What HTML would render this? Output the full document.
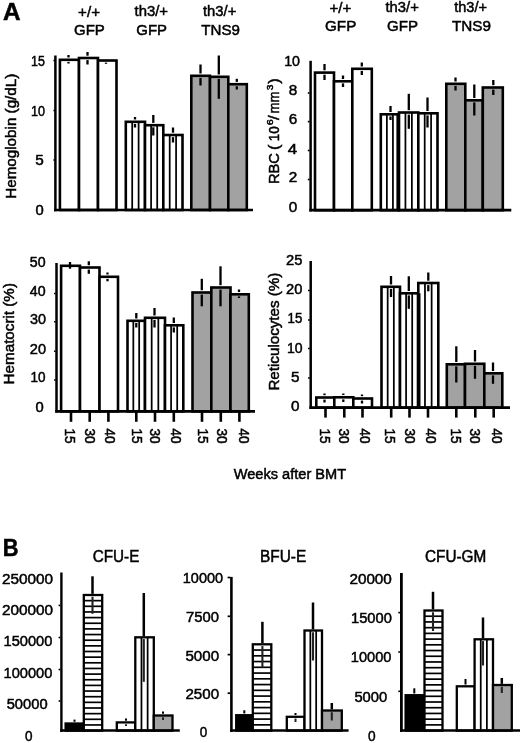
<!DOCTYPE html>
<html><head><meta charset="utf-8"><title>Figure</title>
<style>
html,body{margin:0;padding:0;background:#fff;}
body{width:520px;height:743px;overflow:hidden;font-family:"Liberation Sans", sans-serif;}
svg{display:block;font-family:"Liberation Sans", sans-serif;}
text{fill:#000;stroke:#000;stroke-width:0.5px;}
</style></head><body>
<svg width="520" height="743" viewBox="0 0 520 743">
<defs><filter id="soft" x="0" y="0" width="100%" height="100%" filterUnits="userSpaceOnUse"><feGaussianBlur stdDeviation="0.45"/></filter></defs>
<rect width="520" height="743" fill="#fff"/>
<g filter="url(#soft)">
<rect width="520" height="743" fill="#fff"/>
<rect x="59.90" y="59.80" width="19.10" height="150.20" fill="#fff" stroke="#000" stroke-width="2.6"/>
<rect x="79.00" y="58.00" width="19.00" height="152.00" fill="#fff" stroke="#000" stroke-width="2.6"/>
<rect x="98.00" y="60.50" width="18.50" height="149.50" fill="#fff" stroke="#000" stroke-width="2.6"/>
<line x1="68.50" y1="55.00" x2="68.50" y2="57.50" stroke="#000" stroke-width="2.3"/>
<line x1="68.50" y1="61.90" x2="68.50" y2="63.50" stroke="#000" stroke-width="2.3"/>
<line x1="87.50" y1="52.00" x2="87.50" y2="55.70" stroke="#000" stroke-width="2.3"/>
<line x1="87.50" y1="60.10" x2="87.50" y2="64.50" stroke="#000" stroke-width="2.3"/>
<line x1="106.00" y1="62.60" x2="106.00" y2="63.80" stroke="#000" stroke-width="2.3"/>
<rect x="125.80" y="121.80" width="19.20" height="88.20" fill="#fff" stroke="#000" stroke-width="2.6"/>
<line x1="132.20" y1="121.80" x2="132.20" y2="210.00" stroke="#000" stroke-width="1.75"/>
<line x1="138.60" y1="121.80" x2="138.60" y2="210.00" stroke="#000" stroke-width="1.75"/>
<rect x="145.00" y="125.20" width="18.30" height="84.80" fill="#fff" stroke="#000" stroke-width="2.6"/>
<line x1="151.10" y1="125.20" x2="151.10" y2="210.00" stroke="#000" stroke-width="1.75"/>
<line x1="157.20" y1="125.20" x2="157.20" y2="210.00" stroke="#000" stroke-width="1.75"/>
<rect x="163.30" y="135.00" width="19.20" height="75.00" fill="#fff" stroke="#000" stroke-width="2.6"/>
<line x1="169.70" y1="135.00" x2="169.70" y2="210.00" stroke="#000" stroke-width="1.75"/>
<line x1="176.10" y1="135.00" x2="176.10" y2="210.00" stroke="#000" stroke-width="1.75"/>
<line x1="135.00" y1="117.00" x2="135.00" y2="119.50" stroke="#000" stroke-width="2.3"/>
<line x1="135.00" y1="123.90" x2="135.00" y2="127.50" stroke="#000" stroke-width="2.3"/>
<line x1="153.30" y1="115.00" x2="153.30" y2="122.90" stroke="#000" stroke-width="2.3"/>
<line x1="153.30" y1="127.30" x2="153.30" y2="135.50" stroke="#000" stroke-width="2.3"/>
<line x1="173.00" y1="127.50" x2="173.00" y2="132.70" stroke="#000" stroke-width="2.3"/>
<line x1="173.00" y1="137.10" x2="173.00" y2="142.50" stroke="#000" stroke-width="2.3"/>
<rect x="191.30" y="75.80" width="18.70" height="134.20" fill="#a2a2a2" stroke="#000" stroke-width="2.6"/>
<rect x="210.00" y="76.80" width="18.30" height="133.20" fill="#a2a2a2" stroke="#000" stroke-width="2.6"/>
<rect x="228.30" y="84.20" width="18.50" height="125.80" fill="#a2a2a2" stroke="#000" stroke-width="2.6"/>
<line x1="200.50" y1="64.50" x2="200.50" y2="73.50" stroke="#000" stroke-width="2.3"/>
<line x1="200.50" y1="77.90" x2="200.50" y2="85.50" stroke="#000" stroke-width="2.3"/>
<line x1="218.80" y1="55.50" x2="218.80" y2="74.50" stroke="#000" stroke-width="2.3"/>
<line x1="218.80" y1="78.90" x2="218.80" y2="98.80" stroke="#000" stroke-width="2.3"/>
<line x1="236.80" y1="78.80" x2="236.80" y2="81.90" stroke="#000" stroke-width="2.3"/>
<line x1="236.80" y1="86.30" x2="236.80" y2="89.50" stroke="#000" stroke-width="2.3"/>
<line x1="55.40" y1="55.50" x2="55.40" y2="211.30" stroke="#000" stroke-width="2.5"/>
<line x1="54.10" y1="210.00" x2="253.00" y2="210.00" stroke="#000" stroke-width="2.7"/>
<line x1="53.40" y1="60.50" x2="55.00" y2="60.50" stroke="#000" stroke-width="1.5"/>
<line x1="53.40" y1="110.50" x2="55.00" y2="110.50" stroke="#000" stroke-width="1.5"/>
<line x1="53.40" y1="160.00" x2="55.00" y2="160.00" stroke="#000" stroke-width="1.5"/>
<text transform="translate(31.00,65.52) scale(0.8694,1)" font-size="14.3">15</text>
<text transform="translate(31.00,115.92) scale(0.8820,1)" font-size="14.3">10</text>
<text transform="translate(35.30,165.32) scale(1.0710,1)" font-size="14.3">5</text>
<text transform="translate(35.60,215.42) scale(1.0332,1)" font-size="14.3">0</text>
<text transform="translate(15.60,198.80) rotate(-90) scale(1.0285,1)" font-size="14.8">Hemoglobin (g/dL)</text>
<rect x="315.00" y="72.60" width="19.00" height="137.60" fill="#fff" stroke="#000" stroke-width="2.6"/>
<rect x="334.00" y="81.30" width="18.30" height="128.90" fill="#fff" stroke="#000" stroke-width="2.6"/>
<rect x="352.30" y="68.80" width="19.50" height="141.40" fill="#fff" stroke="#000" stroke-width="2.6"/>
<line x1="324.50" y1="64.00" x2="324.50" y2="70.30" stroke="#000" stroke-width="2.3"/>
<line x1="324.50" y1="74.70" x2="324.50" y2="80.00" stroke="#000" stroke-width="2.3"/>
<line x1="343.00" y1="75.50" x2="343.00" y2="79.00" stroke="#000" stroke-width="2.3"/>
<line x1="343.00" y1="83.40" x2="343.00" y2="87.00" stroke="#000" stroke-width="2.3"/>
<line x1="361.80" y1="62.50" x2="361.80" y2="66.50" stroke="#000" stroke-width="2.3"/>
<line x1="361.80" y1="70.90" x2="361.80" y2="75.00" stroke="#000" stroke-width="2.3"/>
<rect x="380.80" y="114.30" width="18.20" height="95.90" fill="#fff" stroke="#000" stroke-width="2.6"/>
<line x1="386.87" y1="114.30" x2="386.87" y2="210.20" stroke="#000" stroke-width="1.75"/>
<line x1="392.93" y1="114.30" x2="392.93" y2="210.20" stroke="#000" stroke-width="1.75"/>
<rect x="399.00" y="112.50" width="19.30" height="97.70" fill="#fff" stroke="#000" stroke-width="2.6"/>
<line x1="405.43" y1="112.50" x2="405.43" y2="210.20" stroke="#000" stroke-width="1.75"/>
<line x1="411.87" y1="112.50" x2="411.87" y2="210.20" stroke="#000" stroke-width="1.75"/>
<rect x="418.30" y="113.30" width="19.20" height="96.90" fill="#fff" stroke="#000" stroke-width="2.6"/>
<line x1="424.70" y1="113.30" x2="424.70" y2="210.20" stroke="#000" stroke-width="1.75"/>
<line x1="431.10" y1="113.30" x2="431.10" y2="210.20" stroke="#000" stroke-width="1.75"/>
<line x1="390.50" y1="106.00" x2="390.50" y2="112.00" stroke="#000" stroke-width="2.3"/>
<line x1="390.50" y1="116.40" x2="390.50" y2="120.00" stroke="#000" stroke-width="2.3"/>
<line x1="408.80" y1="93.80" x2="408.80" y2="110.20" stroke="#000" stroke-width="2.3"/>
<line x1="408.80" y1="114.60" x2="408.80" y2="128.80" stroke="#000" stroke-width="2.3"/>
<line x1="427.50" y1="97.50" x2="427.50" y2="111.00" stroke="#000" stroke-width="2.3"/>
<line x1="427.50" y1="115.40" x2="427.50" y2="127.50" stroke="#000" stroke-width="2.3"/>
<rect x="446.30" y="83.80" width="19.00" height="126.40" fill="#a2a2a2" stroke="#000" stroke-width="2.6"/>
<rect x="465.30" y="100.30" width="17.50" height="109.90" fill="#a2a2a2" stroke="#000" stroke-width="2.6"/>
<rect x="482.80" y="87.50" width="20.00" height="122.70" fill="#a2a2a2" stroke="#000" stroke-width="2.6"/>
<line x1="455.50" y1="77.50" x2="455.50" y2="81.50" stroke="#000" stroke-width="2.3"/>
<line x1="455.50" y1="85.90" x2="455.50" y2="90.50" stroke="#000" stroke-width="2.3"/>
<line x1="474.30" y1="84.50" x2="474.30" y2="98.00" stroke="#000" stroke-width="2.3"/>
<line x1="474.30" y1="102.40" x2="474.30" y2="115.50" stroke="#000" stroke-width="2.3"/>
<line x1="493.30" y1="80.00" x2="493.30" y2="85.20" stroke="#000" stroke-width="2.3"/>
<line x1="493.30" y1="89.60" x2="493.30" y2="95.00" stroke="#000" stroke-width="2.3"/>
<line x1="398.20" y1="114.00" x2="398.20" y2="210.20" stroke="#000" stroke-width="3.6"/>
<line x1="310.60" y1="60.80" x2="310.60" y2="211.50" stroke="#000" stroke-width="2.5"/>
<line x1="309.30" y1="210.20" x2="511.30" y2="210.20" stroke="#000" stroke-width="2.7"/>
<line x1="307.80" y1="93.00" x2="309.60" y2="93.00" stroke="#000" stroke-width="1.6"/>
<line x1="307.80" y1="121.60" x2="309.60" y2="121.60" stroke="#000" stroke-width="1.6"/>
<line x1="307.80" y1="150.50" x2="309.60" y2="150.50" stroke="#000" stroke-width="1.6"/>
<line x1="307.80" y1="179.50" x2="309.60" y2="179.50" stroke="#000" stroke-width="1.6"/>
<text transform="translate(284.20,66.48) scale(0.9303,1)" font-size="15.3">10</text>
<text transform="translate(288.80,95.28) scale(1.0010,1)" font-size="15.3">8</text>
<text transform="translate(288.70,124.08) scale(1.0010,1)" font-size="15.3">6</text>
<text transform="translate(287.80,153.98) scale(1.1070,1)" font-size="15.3">4</text>
<text transform="translate(288.70,182.18) scale(1.0010,1)" font-size="15.3">2</text>
<text transform="translate(288.70,212.08) scale(1.0010,1)" font-size="15.3">0</text>
<text transform="translate(279.10,184.10) rotate(-90) scale(0.9509,1)" font-size="15.5">RBC</text>
<text transform="translate(279.10,149.93) rotate(-90) scale(1.0500,1)" font-size="15.5">(</text>
<text transform="translate(279.10,141.20) rotate(-90) scale(0.8718,1)" font-size="15.5">10</text>
<text transform="translate(272.80,125.20) rotate(-90) scale(1.2080,1)" font-size="8.8">6</text>
<text transform="translate(279.10,119.99) rotate(-90) scale(1.1000,1)" font-size="15.5">/</text>
<text transform="translate(279.10,113.40) rotate(-90) scale(0.8525,1)" font-size="15.5">mm</text>
<text transform="translate(272.80,90.20) rotate(-90) scale(1.1466,1)" font-size="8.8">3</text>
<text transform="translate(279.10,83.63) rotate(-90) scale(1.0500,1)" font-size="15.5">)</text>
<rect x="61.10" y="265.80" width="18.90" height="145.50" fill="#fff" stroke="#000" stroke-width="2.6"/>
<rect x="80.00" y="267.50" width="19.50" height="143.80" fill="#fff" stroke="#000" stroke-width="2.6"/>
<rect x="99.50" y="276.80" width="18.50" height="134.50" fill="#fff" stroke="#000" stroke-width="2.6"/>
<line x1="70.00" y1="262.00" x2="70.00" y2="268.70" stroke="#000" stroke-width="2.3"/>
<line x1="88.80" y1="261.30" x2="88.80" y2="265.20" stroke="#000" stroke-width="2.3"/>
<line x1="88.80" y1="269.60" x2="88.80" y2="273.80" stroke="#000" stroke-width="2.3"/>
<line x1="107.50" y1="272.50" x2="107.50" y2="274.50" stroke="#000" stroke-width="2.3"/>
<line x1="107.50" y1="278.90" x2="107.50" y2="281.30" stroke="#000" stroke-width="2.3"/>
<rect x="127.50" y="320.80" width="17.50" height="90.50" fill="#fff" stroke="#000" stroke-width="2.6"/>
<line x1="133.33" y1="320.80" x2="133.33" y2="411.30" stroke="#000" stroke-width="1.75"/>
<line x1="139.17" y1="320.80" x2="139.17" y2="411.30" stroke="#000" stroke-width="1.75"/>
<rect x="145.00" y="317.80" width="20.00" height="93.50" fill="#fff" stroke="#000" stroke-width="2.6"/>
<line x1="151.67" y1="317.80" x2="151.67" y2="411.30" stroke="#000" stroke-width="1.75"/>
<line x1="158.33" y1="317.80" x2="158.33" y2="411.30" stroke="#000" stroke-width="1.75"/>
<rect x="165.00" y="325.30" width="18.30" height="86.00" fill="#fff" stroke="#000" stroke-width="2.6"/>
<line x1="171.10" y1="325.30" x2="171.10" y2="411.30" stroke="#000" stroke-width="1.75"/>
<line x1="177.20" y1="325.30" x2="177.20" y2="411.30" stroke="#000" stroke-width="1.75"/>
<line x1="136.30" y1="313.00" x2="136.30" y2="318.50" stroke="#000" stroke-width="2.3"/>
<line x1="136.30" y1="322.90" x2="136.30" y2="327.50" stroke="#000" stroke-width="2.3"/>
<line x1="154.50" y1="308.00" x2="154.50" y2="315.50" stroke="#000" stroke-width="2.3"/>
<line x1="154.50" y1="319.90" x2="154.50" y2="327.50" stroke="#000" stroke-width="2.3"/>
<line x1="173.80" y1="317.50" x2="173.80" y2="323.00" stroke="#000" stroke-width="2.3"/>
<line x1="173.80" y1="327.40" x2="173.80" y2="332.50" stroke="#000" stroke-width="2.3"/>
<rect x="192.50" y="292.50" width="18.80" height="118.80" fill="#a2a2a2" stroke="#000" stroke-width="2.6"/>
<rect x="211.30" y="287.50" width="19.20" height="123.80" fill="#a2a2a2" stroke="#000" stroke-width="2.6"/>
<rect x="230.50" y="294.30" width="18.30" height="117.00" fill="#a2a2a2" stroke="#000" stroke-width="2.6"/>
<line x1="201.80" y1="278.80" x2="201.80" y2="290.20" stroke="#000" stroke-width="2.3"/>
<line x1="201.80" y1="294.60" x2="201.80" y2="306.30" stroke="#000" stroke-width="2.3"/>
<line x1="220.50" y1="266.30" x2="220.50" y2="285.20" stroke="#000" stroke-width="2.3"/>
<line x1="220.50" y1="289.60" x2="220.50" y2="306.30" stroke="#000" stroke-width="2.3"/>
<line x1="239.00" y1="289.50" x2="239.00" y2="292.00" stroke="#000" stroke-width="2.3"/>
<line x1="239.00" y1="296.40" x2="239.00" y2="298.00" stroke="#000" stroke-width="2.3"/>
<line x1="56.50" y1="263.00" x2="56.50" y2="412.60" stroke="#000" stroke-width="2.5"/>
<line x1="55.20" y1="411.30" x2="255.00" y2="411.30" stroke="#000" stroke-width="2.7"/>
<line x1="54.00" y1="293.60" x2="55.60" y2="293.60" stroke="#000" stroke-width="1.5"/>
<line x1="54.00" y1="321.70" x2="55.60" y2="321.70" stroke="#000" stroke-width="1.5"/>
<line x1="54.00" y1="351.20" x2="55.60" y2="351.20" stroke="#000" stroke-width="1.5"/>
<line x1="54.00" y1="380.00" x2="55.60" y2="380.00" stroke="#000" stroke-width="1.5"/>
<text transform="translate(29.80,266.93) scale(0.9749,1)" font-size="14.6">50</text>
<text transform="translate(29.80,296.03) scale(0.9749,1)" font-size="14.6">40</text>
<text transform="translate(30.00,324.13) scale(0.9873,1)" font-size="14.6">30</text>
<text transform="translate(29.80,353.63) scale(0.9996,1)" font-size="14.6">20</text>
<text transform="translate(30.60,382.43) scale(0.9256,1)" font-size="14.6">10</text>
<text transform="translate(35.60,411.83) scale(1.0120,1)" font-size="14.6">0</text>
<text transform="translate(14.40,384.40) rotate(-90) scale(1.0272,1)" font-size="14.8">Hematocrit (%)</text>
<line x1="71.00" y1="411.30" x2="71.00" y2="421.80" stroke="#000" stroke-width="2.6"/>
<text transform="translate(65.00,428.40) rotate(90) scale(0.8891,1)" font-size="15.3">15</text>
<line x1="89.70" y1="411.30" x2="89.70" y2="421.80" stroke="#000" stroke-width="2.6"/>
<text transform="translate(84.90,428.40) rotate(90) scale(0.8891,1)" font-size="15.3">30</text>
<line x1="108.40" y1="411.30" x2="108.40" y2="421.80" stroke="#000" stroke-width="2.6"/>
<text transform="translate(105.40,428.40) rotate(90) scale(0.8891,1)" font-size="15.3">40</text>
<line x1="136.30" y1="411.30" x2="136.30" y2="421.80" stroke="#000" stroke-width="2.6"/>
<text transform="translate(132.00,428.40) rotate(90) scale(0.8891,1)" font-size="15.3">15</text>
<line x1="155.00" y1="411.30" x2="155.00" y2="421.80" stroke="#000" stroke-width="2.6"/>
<text transform="translate(150.20,428.40) rotate(90) scale(0.8891,1)" font-size="15.3">30</text>
<line x1="173.80" y1="411.30" x2="173.80" y2="421.80" stroke="#000" stroke-width="2.6"/>
<text transform="translate(170.90,428.40) rotate(90) scale(0.8891,1)" font-size="15.3">40</text>
<line x1="202.00" y1="411.30" x2="202.00" y2="421.80" stroke="#000" stroke-width="2.6"/>
<text transform="translate(197.70,428.40) rotate(90) scale(0.8891,1)" font-size="15.3">15</text>
<line x1="220.80" y1="411.30" x2="220.80" y2="421.80" stroke="#000" stroke-width="2.6"/>
<text transform="translate(216.90,428.40) rotate(90) scale(0.8891,1)" font-size="15.3">30</text>
<line x1="239.40" y1="411.30" x2="239.40" y2="421.80" stroke="#000" stroke-width="2.6"/>
<text transform="translate(238.50,428.40) rotate(90) scale(0.8891,1)" font-size="15.3">40</text>
<rect x="316.30" y="397.50" width="18.00" height="10.10" fill="#fff" stroke="#000" stroke-width="2.6"/>
<rect x="334.30" y="397.30" width="19.00" height="10.30" fill="#fff" stroke="#000" stroke-width="2.6"/>
<rect x="353.30" y="398.50" width="18.70" height="9.10" fill="#fff" stroke="#000" stroke-width="2.6"/>
<line x1="324.50" y1="393.50" x2="324.50" y2="395.20" stroke="#000" stroke-width="2.3"/>
<line x1="324.50" y1="399.60" x2="324.50" y2="402.50" stroke="#000" stroke-width="2.3"/>
<line x1="343.30" y1="393.50" x2="343.30" y2="395.00" stroke="#000" stroke-width="2.3"/>
<line x1="343.30" y1="399.40" x2="343.30" y2="402.00" stroke="#000" stroke-width="2.3"/>
<line x1="362.00" y1="394.50" x2="362.00" y2="396.20" stroke="#000" stroke-width="2.3"/>
<line x1="362.00" y1="400.60" x2="362.00" y2="403.50" stroke="#000" stroke-width="2.3"/>
<rect x="381.50" y="286.80" width="18.50" height="120.80" fill="#fff" stroke="#000" stroke-width="2.6"/>
<line x1="387.67" y1="286.80" x2="387.67" y2="407.60" stroke="#000" stroke-width="1.75"/>
<line x1="393.83" y1="286.80" x2="393.83" y2="407.60" stroke="#000" stroke-width="1.75"/>
<rect x="400.00" y="293.30" width="18.30" height="114.30" fill="#fff" stroke="#000" stroke-width="2.6"/>
<line x1="406.10" y1="293.30" x2="406.10" y2="407.60" stroke="#000" stroke-width="1.75"/>
<line x1="412.20" y1="293.30" x2="412.20" y2="407.60" stroke="#000" stroke-width="1.75"/>
<rect x="418.30" y="283.00" width="20.00" height="124.60" fill="#fff" stroke="#000" stroke-width="2.6"/>
<line x1="424.97" y1="283.00" x2="424.97" y2="407.60" stroke="#000" stroke-width="1.75"/>
<line x1="431.63" y1="283.00" x2="431.63" y2="407.60" stroke="#000" stroke-width="1.75"/>
<line x1="391.00" y1="276.00" x2="391.00" y2="284.50" stroke="#000" stroke-width="2.3"/>
<line x1="391.00" y1="288.90" x2="391.00" y2="297.00" stroke="#000" stroke-width="2.3"/>
<line x1="408.80" y1="276.30" x2="408.80" y2="291.00" stroke="#000" stroke-width="2.3"/>
<line x1="408.80" y1="295.40" x2="408.80" y2="308.80" stroke="#000" stroke-width="2.3"/>
<line x1="428.30" y1="272.50" x2="428.30" y2="280.70" stroke="#000" stroke-width="2.3"/>
<line x1="428.30" y1="285.10" x2="428.30" y2="291.30" stroke="#000" stroke-width="2.3"/>
<rect x="446.80" y="364.30" width="18.20" height="43.30" fill="#a2a2a2" stroke="#000" stroke-width="2.6"/>
<rect x="465.00" y="363.80" width="19.30" height="43.80" fill="#a2a2a2" stroke="#000" stroke-width="2.6"/>
<rect x="484.30" y="373.30" width="18.00" height="34.30" fill="#a2a2a2" stroke="#000" stroke-width="2.6"/>
<line x1="456.30" y1="346.30" x2="456.30" y2="362.00" stroke="#000" stroke-width="2.3"/>
<line x1="456.30" y1="366.40" x2="456.30" y2="382.50" stroke="#000" stroke-width="2.3"/>
<line x1="475.00" y1="350.00" x2="475.00" y2="361.50" stroke="#000" stroke-width="2.3"/>
<line x1="475.00" y1="365.90" x2="475.00" y2="378.80" stroke="#000" stroke-width="2.3"/>
<line x1="493.00" y1="362.50" x2="493.00" y2="371.00" stroke="#000" stroke-width="2.3"/>
<line x1="493.00" y1="375.40" x2="493.00" y2="383.80" stroke="#000" stroke-width="2.3"/>
<line x1="418.60" y1="293.30" x2="418.60" y2="407.60" stroke="#000" stroke-width="3.8"/>
<line x1="310.70" y1="261.00" x2="310.70" y2="408.90" stroke="#000" stroke-width="2.5"/>
<line x1="309.40" y1="407.60" x2="510.00" y2="407.60" stroke="#000" stroke-width="2.7"/>
<line x1="308.00" y1="290.60" x2="309.80" y2="290.60" stroke="#000" stroke-width="1.5"/>
<line x1="308.00" y1="320.00" x2="309.80" y2="320.00" stroke="#000" stroke-width="1.5"/>
<line x1="308.00" y1="348.50" x2="309.80" y2="348.50" stroke="#000" stroke-width="1.5"/>
<line x1="308.00" y1="378.10" x2="309.80" y2="378.10" stroke="#000" stroke-width="1.5"/>
<text transform="translate(286.00,265.00) scale(0.9922,1)" font-size="14.8">25</text>
<text transform="translate(286.00,294.10) scale(0.9922,1)" font-size="14.8">20</text>
<text transform="translate(287.60,323.10) scale(0.8948,1)" font-size="14.8">15</text>
<text transform="translate(287.00,352.50) scale(0.9496,1)" font-size="14.8">10</text>
<text transform="translate(291.00,381.60) scale(1.0348,1)" font-size="14.8">5</text>
<text transform="translate(291.00,411.20) scale(1.0348,1)" font-size="14.8">0</text>
<text transform="translate(279.00,390.60) rotate(-90) scale(1.0120,1)" font-size="15">Reticulocytes (%)</text>
<line x1="325.50" y1="407.60" x2="325.50" y2="417.60" stroke="#000" stroke-width="2.6"/>
<text transform="translate(319.60,428.40) rotate(90) scale(0.8891,1)" font-size="15.3">15</text>
<line x1="344.30" y1="407.60" x2="344.30" y2="417.60" stroke="#000" stroke-width="2.6"/>
<text transform="translate(339.10,428.40) rotate(90) scale(0.8891,1)" font-size="15.3">30</text>
<line x1="362.50" y1="407.60" x2="362.50" y2="417.60" stroke="#000" stroke-width="2.6"/>
<text transform="translate(360.30,428.40) rotate(90) scale(0.8891,1)" font-size="15.3">40</text>
<line x1="391.20" y1="407.60" x2="391.20" y2="417.60" stroke="#000" stroke-width="2.6"/>
<text transform="translate(385.30,428.40) rotate(90) scale(0.8891,1)" font-size="15.3">15</text>
<line x1="409.50" y1="407.60" x2="409.50" y2="417.60" stroke="#000" stroke-width="2.6"/>
<text transform="translate(405.30,428.40) rotate(90) scale(0.8891,1)" font-size="15.3">30</text>
<line x1="428.00" y1="407.60" x2="428.00" y2="417.60" stroke="#000" stroke-width="2.6"/>
<text transform="translate(426.10,428.40) rotate(90) scale(0.8891,1)" font-size="15.3">40</text>
<line x1="456.30" y1="407.60" x2="456.30" y2="417.60" stroke="#000" stroke-width="2.6"/>
<text transform="translate(451.10,428.40) rotate(90) scale(0.8891,1)" font-size="15.3">15</text>
<line x1="475.30" y1="407.60" x2="475.30" y2="417.60" stroke="#000" stroke-width="2.6"/>
<text transform="translate(470.30,428.40) rotate(90) scale(0.8891,1)" font-size="15.3">30</text>
<line x1="493.70" y1="407.60" x2="493.70" y2="417.60" stroke="#000" stroke-width="2.6"/>
<text transform="translate(491.80,428.40) rotate(90) scale(0.8891,1)" font-size="15.3">40</text>
<text transform="translate(78.10,17.20) scale(0.9778,1)" font-size="15.5">+/+</text>
<text transform="translate(74.00,34.80) scale(0.9670,1)" font-size="15.5">GFP</text>
<text transform="translate(134.50,16.20) scale(0.9606,1)" font-size="15.5">th3/+</text>
<text transform="translate(136.30,34.80) scale(0.9638,1)" font-size="15.5">GFP</text>
<text transform="translate(203.00,16.20) scale(0.9548,1)" font-size="15.5">th3/+</text>
<text transform="translate(201.30,34.80) scale(0.9772,1)" font-size="15.5">TNS9</text>
<text transform="translate(329.50,13.30) scale(0.9733,1)" font-size="15.5">+/+</text>
<text transform="translate(325.00,31.10) scale(0.9827,1)" font-size="15.5">GFP</text>
<text transform="translate(385.50,12.40) scale(0.9548,1)" font-size="15.5">th3/+</text>
<text transform="translate(387.00,31.10) scale(0.9732,1)" font-size="15.5">GFP</text>
<text transform="translate(454.20,12.30) scale(0.9405,1)" font-size="15.5">th3/+</text>
<text transform="translate(452.00,30.90) scale(0.9848,1)" font-size="15.5">TNS9</text>
<text transform="translate(3.10,20.10) scale(0.9921,1)" font-size="24.5" font-weight="bold">A</text>
<text transform="translate(2.75,556.40) scale(0.8821,1)" font-size="24.8" font-weight="bold">B</text>
<text transform="translate(233.75,479.40) scale(0.9543,1)" font-size="15.3">Weeks after BMT</text>
<rect x="65.60" y="723.50" width="18.20" height="7.10" fill="#000" stroke="#000" stroke-width="2.3"/>
<rect x="83.80" y="595.00" width="18.40" height="135.60" fill="#fff" stroke="#000" stroke-width="2.3"/>
<line x1="83.80" y1="600.65" x2="102.20" y2="600.65" stroke="#000" stroke-width="1.7"/>
<line x1="83.80" y1="606.30" x2="102.20" y2="606.30" stroke="#000" stroke-width="1.7"/>
<line x1="83.80" y1="611.95" x2="102.20" y2="611.95" stroke="#000" stroke-width="1.7"/>
<line x1="83.80" y1="617.60" x2="102.20" y2="617.60" stroke="#000" stroke-width="1.7"/>
<line x1="83.80" y1="623.25" x2="102.20" y2="623.25" stroke="#000" stroke-width="1.7"/>
<line x1="83.80" y1="628.90" x2="102.20" y2="628.90" stroke="#000" stroke-width="1.7"/>
<line x1="83.80" y1="634.55" x2="102.20" y2="634.55" stroke="#000" stroke-width="1.7"/>
<line x1="83.80" y1="640.20" x2="102.20" y2="640.20" stroke="#000" stroke-width="1.7"/>
<line x1="83.80" y1="645.85" x2="102.20" y2="645.85" stroke="#000" stroke-width="1.7"/>
<line x1="83.80" y1="651.50" x2="102.20" y2="651.50" stroke="#000" stroke-width="1.7"/>
<line x1="83.80" y1="657.15" x2="102.20" y2="657.15" stroke="#000" stroke-width="1.7"/>
<line x1="83.80" y1="662.80" x2="102.20" y2="662.80" stroke="#000" stroke-width="1.7"/>
<line x1="83.80" y1="668.45" x2="102.20" y2="668.45" stroke="#000" stroke-width="1.7"/>
<line x1="83.80" y1="674.10" x2="102.20" y2="674.10" stroke="#000" stroke-width="1.7"/>
<line x1="83.80" y1="679.75" x2="102.20" y2="679.75" stroke="#000" stroke-width="1.7"/>
<line x1="83.80" y1="685.40" x2="102.20" y2="685.40" stroke="#000" stroke-width="1.7"/>
<line x1="83.80" y1="691.05" x2="102.20" y2="691.05" stroke="#000" stroke-width="1.7"/>
<line x1="83.80" y1="696.70" x2="102.20" y2="696.70" stroke="#000" stroke-width="1.7"/>
<line x1="83.80" y1="702.35" x2="102.20" y2="702.35" stroke="#000" stroke-width="1.7"/>
<line x1="83.80" y1="708.00" x2="102.20" y2="708.00" stroke="#000" stroke-width="1.7"/>
<line x1="83.80" y1="713.65" x2="102.20" y2="713.65" stroke="#000" stroke-width="1.7"/>
<line x1="83.80" y1="719.30" x2="102.20" y2="719.30" stroke="#000" stroke-width="1.7"/>
<line x1="83.80" y1="724.95" x2="102.20" y2="724.95" stroke="#000" stroke-width="1.7"/>
<rect x="116.80" y="722.40" width="18.50" height="8.20" fill="#fff" stroke="#000" stroke-width="2.3"/>
<rect x="135.30" y="637.30" width="18.50" height="93.30" fill="#fff" stroke="#000" stroke-width="2.3"/>
<line x1="141.47" y1="637.30" x2="141.47" y2="730.60" stroke="#000" stroke-width="1.75"/>
<line x1="147.63" y1="637.30" x2="147.63" y2="730.60" stroke="#000" stroke-width="1.75"/>
<rect x="153.80" y="715.50" width="18.70" height="15.10" fill="#a2a2a2" stroke="#000" stroke-width="2.3"/>
<line x1="74.50" y1="719.60" x2="74.50" y2="721.75" stroke="#000" stroke-width="2.0"/>
<line x1="92.50" y1="576.30" x2="92.50" y2="593.85" stroke="#000" stroke-width="2.5"/>
<line x1="92.50" y1="596.75" x2="92.50" y2="613.80" stroke="#222" stroke-width="2.1"/>
<line x1="126.00" y1="718.60" x2="126.00" y2="720.65" stroke="#000" stroke-width="2.0"/>
<line x1="126.00" y1="724.15" x2="126.00" y2="726.00" stroke="#222" stroke-width="2.0"/>
<line x1="143.80" y1="593.00" x2="143.80" y2="636.15" stroke="#000" stroke-width="2.5"/>
<line x1="143.80" y1="639.05" x2="143.80" y2="681.80" stroke="#222" stroke-width="2.1"/>
<line x1="163.00" y1="711.60" x2="163.00" y2="713.75" stroke="#000" stroke-width="2.0"/>
<line x1="163.00" y1="717.25" x2="163.00" y2="720.00" stroke="#222" stroke-width="2.0"/>
<line x1="61.40" y1="572.50" x2="61.40" y2="731.90" stroke="#000" stroke-width="2.4"/>
<line x1="60.20" y1="730.60" x2="179.80" y2="730.60" stroke="#000" stroke-width="2.5"/>
<line x1="58.60" y1="605.40" x2="60.40" y2="605.40" stroke="#000" stroke-width="1.6"/>
<line x1="58.60" y1="637.50" x2="60.40" y2="637.50" stroke="#000" stroke-width="1.6"/>
<line x1="58.60" y1="669.50" x2="60.40" y2="669.50" stroke="#000" stroke-width="1.6"/>
<line x1="58.60" y1="701.00" x2="60.40" y2="701.00" stroke="#000" stroke-width="1.6"/>
<text transform="translate(1.90,584.47) scale(1.0235,1)" font-size="15">250000</text>
<text transform="translate(1.90,615.07) scale(1.0235,1)" font-size="15">200000</text>
<text transform="translate(3.50,646.47) scale(0.9775,1)" font-size="15">150000</text>
<text transform="translate(3.50,677.77) scale(0.9775,1)" font-size="15">100000</text>
<text transform="translate(6.70,709.17) scale(0.9808,1)" font-size="15">50000</text>
<text transform="translate(25.10,740.57) scale(0.9009,1)" font-size="15">0</text>
<text transform="translate(92.75,561.80) scale(0.9665,1)" font-size="15.8">CFU-E</text>
<rect x="236.20" y="715.20" width="16.60" height="15.40" fill="#000" stroke="#000" stroke-width="2.3"/>
<rect x="252.80" y="644.30" width="18.50" height="86.30" fill="#fff" stroke="#000" stroke-width="2.3"/>
<line x1="252.80" y1="650.05" x2="271.30" y2="650.05" stroke="#000" stroke-width="1.7"/>
<line x1="252.80" y1="655.81" x2="271.30" y2="655.81" stroke="#000" stroke-width="1.7"/>
<line x1="252.80" y1="661.56" x2="271.30" y2="661.56" stroke="#000" stroke-width="1.7"/>
<line x1="252.80" y1="667.31" x2="271.30" y2="667.31" stroke="#000" stroke-width="1.7"/>
<line x1="252.80" y1="673.07" x2="271.30" y2="673.07" stroke="#000" stroke-width="1.7"/>
<line x1="252.80" y1="678.82" x2="271.30" y2="678.82" stroke="#000" stroke-width="1.7"/>
<line x1="252.80" y1="684.57" x2="271.30" y2="684.57" stroke="#000" stroke-width="1.7"/>
<line x1="252.80" y1="690.33" x2="271.30" y2="690.33" stroke="#000" stroke-width="1.7"/>
<line x1="252.80" y1="696.08" x2="271.30" y2="696.08" stroke="#000" stroke-width="1.7"/>
<line x1="252.80" y1="701.83" x2="271.30" y2="701.83" stroke="#000" stroke-width="1.7"/>
<line x1="252.80" y1="707.59" x2="271.30" y2="707.59" stroke="#000" stroke-width="1.7"/>
<line x1="252.80" y1="713.34" x2="271.30" y2="713.34" stroke="#000" stroke-width="1.7"/>
<line x1="252.80" y1="719.09" x2="271.30" y2="719.09" stroke="#000" stroke-width="1.7"/>
<line x1="252.80" y1="724.85" x2="271.30" y2="724.85" stroke="#000" stroke-width="1.7"/>
<rect x="286.80" y="716.80" width="17.70" height="13.80" fill="#fff" stroke="#000" stroke-width="2.3"/>
<rect x="304.50" y="630.50" width="17.50" height="100.10" fill="#fff" stroke="#000" stroke-width="2.3"/>
<line x1="310.33" y1="630.50" x2="310.33" y2="730.60" stroke="#000" stroke-width="1.75"/>
<line x1="316.17" y1="630.50" x2="316.17" y2="730.60" stroke="#000" stroke-width="1.75"/>
<rect x="322.00" y="710.50" width="19.80" height="20.10" fill="#a2a2a2" stroke="#000" stroke-width="2.3"/>
<line x1="244.30" y1="710.30" x2="244.30" y2="713.45" stroke="#000" stroke-width="2.0"/>
<line x1="262.40" y1="621.80" x2="262.40" y2="643.15" stroke="#000" stroke-width="2.5"/>
<line x1="262.40" y1="646.05" x2="262.40" y2="667.50" stroke="#222" stroke-width="2.1"/>
<line x1="295.50" y1="713.00" x2="295.50" y2="715.05" stroke="#000" stroke-width="2.0"/>
<line x1="295.50" y1="718.55" x2="295.50" y2="722.00" stroke="#222" stroke-width="2.0"/>
<line x1="313.00" y1="602.50" x2="313.00" y2="629.35" stroke="#000" stroke-width="2.5"/>
<line x1="313.00" y1="632.25" x2="313.00" y2="660.50" stroke="#222" stroke-width="2.1"/>
<line x1="331.80" y1="703.00" x2="331.80" y2="709.35" stroke="#000" stroke-width="2.5"/>
<line x1="331.80" y1="712.25" x2="331.80" y2="720.50" stroke="#222" stroke-width="2.1"/>
<line x1="231.40" y1="576.90" x2="231.40" y2="731.90" stroke="#000" stroke-width="2.6"/>
<line x1="230.10" y1="730.60" x2="348.60" y2="730.60" stroke="#000" stroke-width="2.5"/>
<line x1="227.60" y1="577.50" x2="230.20" y2="577.50" stroke="#000" stroke-width="1.7"/>
<line x1="227.60" y1="616.30" x2="230.20" y2="616.30" stroke="#000" stroke-width="1.7"/>
<line x1="227.60" y1="654.60" x2="230.20" y2="654.60" stroke="#000" stroke-width="1.7"/>
<line x1="227.60" y1="693.20" x2="230.20" y2="693.20" stroke="#000" stroke-width="1.7"/>
<text transform="translate(182.75,583.47) scale(0.9676,1)" font-size="15">10000</text>
<text transform="translate(186.00,622.12) scale(0.9888,1)" font-size="15">7500</text>
<text transform="translate(185.40,660.77) scale(1.0097,1)" font-size="15">5000</text>
<text transform="translate(185.40,699.27) scale(1.0097,1)" font-size="15">2500</text>
<text transform="translate(199.70,736.97) scale(0.9009,1)" font-size="15">0</text>
<text transform="translate(260.00,561.80) scale(0.9768,1)" font-size="15.8">BFU-E</text>
<rect x="405.60" y="695.20" width="18.90" height="35.40" fill="#000" stroke="#000" stroke-width="2.3"/>
<rect x="424.50" y="610.50" width="18.00" height="120.10" fill="#fff" stroke="#000" stroke-width="2.3"/>
<line x1="424.50" y1="616.22" x2="442.50" y2="616.22" stroke="#000" stroke-width="1.7"/>
<line x1="424.50" y1="621.94" x2="442.50" y2="621.94" stroke="#000" stroke-width="1.7"/>
<line x1="424.50" y1="627.66" x2="442.50" y2="627.66" stroke="#000" stroke-width="1.7"/>
<line x1="424.50" y1="633.38" x2="442.50" y2="633.38" stroke="#000" stroke-width="1.7"/>
<line x1="424.50" y1="639.10" x2="442.50" y2="639.10" stroke="#000" stroke-width="1.7"/>
<line x1="424.50" y1="644.81" x2="442.50" y2="644.81" stroke="#000" stroke-width="1.7"/>
<line x1="424.50" y1="650.53" x2="442.50" y2="650.53" stroke="#000" stroke-width="1.7"/>
<line x1="424.50" y1="656.25" x2="442.50" y2="656.25" stroke="#000" stroke-width="1.7"/>
<line x1="424.50" y1="661.97" x2="442.50" y2="661.97" stroke="#000" stroke-width="1.7"/>
<line x1="424.50" y1="667.69" x2="442.50" y2="667.69" stroke="#000" stroke-width="1.7"/>
<line x1="424.50" y1="673.41" x2="442.50" y2="673.41" stroke="#000" stroke-width="1.7"/>
<line x1="424.50" y1="679.13" x2="442.50" y2="679.13" stroke="#000" stroke-width="1.7"/>
<line x1="424.50" y1="684.85" x2="442.50" y2="684.85" stroke="#000" stroke-width="1.7"/>
<line x1="424.50" y1="690.57" x2="442.50" y2="690.57" stroke="#000" stroke-width="1.7"/>
<line x1="424.50" y1="696.29" x2="442.50" y2="696.29" stroke="#000" stroke-width="1.7"/>
<line x1="424.50" y1="702.00" x2="442.50" y2="702.00" stroke="#000" stroke-width="1.7"/>
<line x1="424.50" y1="707.72" x2="442.50" y2="707.72" stroke="#000" stroke-width="1.7"/>
<line x1="424.50" y1="713.44" x2="442.50" y2="713.44" stroke="#000" stroke-width="1.7"/>
<line x1="424.50" y1="719.16" x2="442.50" y2="719.16" stroke="#000" stroke-width="1.7"/>
<line x1="424.50" y1="724.88" x2="442.50" y2="724.88" stroke="#000" stroke-width="1.7"/>
<rect x="456.80" y="686.30" width="17.80" height="44.30" fill="#fff" stroke="#000" stroke-width="2.3"/>
<rect x="474.60" y="639.30" width="18.40" height="91.30" fill="#fff" stroke="#000" stroke-width="2.3"/>
<line x1="480.73" y1="639.30" x2="480.73" y2="730.60" stroke="#000" stroke-width="1.75"/>
<line x1="486.87" y1="639.30" x2="486.87" y2="730.60" stroke="#000" stroke-width="1.75"/>
<rect x="493.00" y="685.00" width="18.80" height="45.60" fill="#a2a2a2" stroke="#000" stroke-width="2.3"/>
<line x1="414.30" y1="688.30" x2="414.30" y2="693.45" stroke="#000" stroke-width="2.0"/>
<line x1="433.00" y1="591.80" x2="433.00" y2="609.35" stroke="#000" stroke-width="2.5"/>
<line x1="433.00" y1="612.25" x2="433.00" y2="631.00" stroke="#222" stroke-width="2.1"/>
<line x1="465.50" y1="679.00" x2="465.50" y2="684.55" stroke="#000" stroke-width="2.0"/>
<line x1="483.00" y1="617.50" x2="483.00" y2="638.15" stroke="#000" stroke-width="2.5"/>
<line x1="483.00" y1="641.05" x2="483.00" y2="665.50" stroke="#222" stroke-width="2.1"/>
<line x1="501.80" y1="678.00" x2="501.80" y2="683.85" stroke="#000" stroke-width="2.5"/>
<line x1="501.80" y1="686.75" x2="501.80" y2="693.00" stroke="#222" stroke-width="2.1"/>
<line x1="401.40" y1="573.00" x2="401.40" y2="731.90" stroke="#000" stroke-width="2.8"/>
<line x1="400.00" y1="730.60" x2="520.00" y2="730.60" stroke="#000" stroke-width="2.5"/>
<line x1="398.30" y1="612.60" x2="400.20" y2="612.60" stroke="#000" stroke-width="1.6"/>
<line x1="398.30" y1="652.00" x2="400.20" y2="652.00" stroke="#000" stroke-width="1.6"/>
<line x1="398.30" y1="691.30" x2="400.20" y2="691.30" stroke="#000" stroke-width="1.6"/>
<text transform="translate(349.40,583.62) scale(1.0192,1)" font-size="15">20000</text>
<text transform="translate(351.00,622.67) scale(0.9808,1)" font-size="15">15000</text>
<text transform="translate(350.80,662.47) scale(0.9736,1)" font-size="15">10000</text>
<text transform="translate(354.40,702.37) scale(0.9858,1)" font-size="15">5000</text>
<text transform="translate(367.90,741.37) scale(0.9129,1)" font-size="15">0</text>
<text transform="translate(425.00,561.80) scale(0.9699,1)" font-size="15.8">CFU-GM</text>
</g>
</svg>
</body></html>
